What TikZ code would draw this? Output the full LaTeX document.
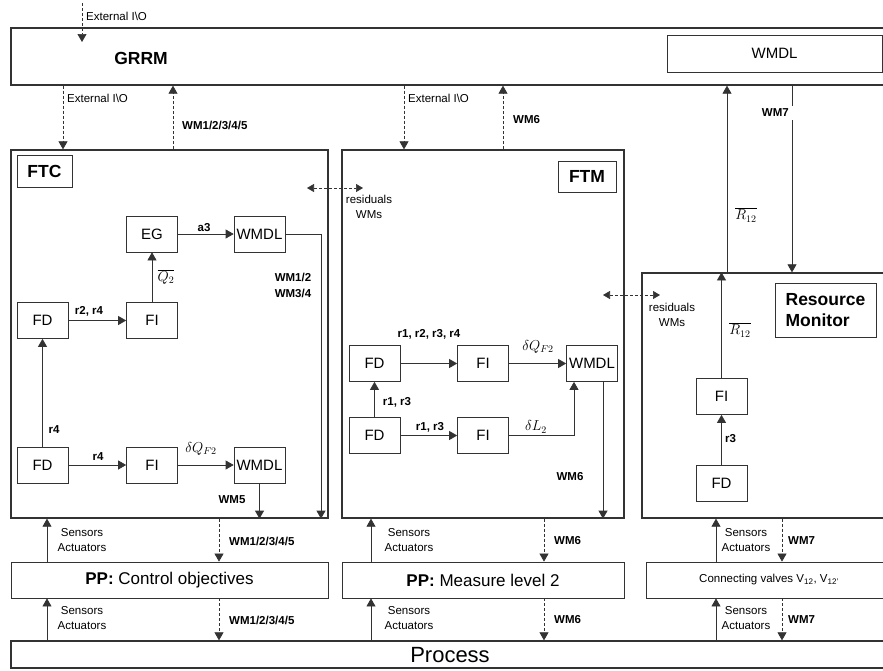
\documentclass[tikz,border=0pt]{standalone}
\usepackage{fontspec}
\setmainfont{Liberation Sans}
\usetikzlibrary{positioning, calc, arrows.meta}
\tikzset{
    panel/.style={draw=black!80, line width=1.3pt, inner sep=0pt},
    blk/.style={draw=black!80, line width=0.7pt, minimum width=51pt, minimum height=36pt, inner sep=0pt, font=\fontsize{15}{17}\selectfont},
    title/.style={font=\fontsize{17.5}{21.5}\selectfont\bfseries},
    tag/.style={inner sep=1pt, font=\fontsize{11.5}{14.5}\selectfont, align=center},
    wm/.style={inner sep=1pt, font=\fontsize{11.5}{16}\selectfont\bfseries, align=center},
    sym/.style={inner sep=1pt, font=\fontsize{14}{16}\selectfont},
    arr/.style={draw=black!80, line width=0.7pt, -{Triangle[width=9pt,length=8pt]}},
    darr/.style={arr, dash pattern=on 3pt off 2pt},
    biarr/.style={darr, {Triangle[width=8pt,length=7pt]}-{Triangle[width=8pt,length=7pt]}},
}

\begin{document}
\begin{tikzpicture}[x=1pt, y=-1pt]
\useasboundingbox (0,0) rectangle (883,670);

\node[panel, minimum width=881pt, minimum height=57pt] (grrm) at (451.5,56.5) {};
\node[panel, minimum width=317pt, minimum height=368pt] (ftc) at (169.5,334) {};
\node[panel, minimum width=282pt, minimum height=368pt] (ftm) at (483,334) {};
\node[panel, minimum width=250pt, minimum height=245pt] (rm) at (767,395.5) {};
\node[panel, line width=0.8pt, minimum width=317pt, minimum height=36pt, font=\fontsize{17}{19}\selectfont] (ppc) at (169.5,580) {\textbf{PP:} Control objectives};
\node[panel, line width=0.8pt, minimum width=282pt, minimum height=36pt, font=\fontsize{17}{19}\selectfont] (ppm) at (483,580) {\textbf{PP:} Measure level 2};
\node[panel, line width=0.8pt, minimum width=246pt, minimum height=36pt, font=\fontsize{11.5}{13}\selectfont] (ppv) at (769,580) {Connecting valves V\textsubscript{12}, V\textsubscript{12'}};
\node[panel, minimum width=881pt, minimum height=27pt] (proc) at (451.5,654.5) {};
\node[font=\fontsize{22}{24}\selectfont] (tproc) at (450,655) {Process};

\node[title] (tgrrm) at (141,58) {GRRM};
\node[blk, minimum width=215pt, minimum height=37pt] (wmdl0) at (774.5,53.5) {WMDL};
\node[blk, title, minimum width=55pt, minimum height=32pt] (ftctag) at (44.5,171) {FTC};
\node[blk, title, minimum width=58pt, minimum height=31pt] (ftmtag) at (587,176.5) {FTM};
\node[blk, title, minimum width=101pt, minimum height=54pt, align=left] (rmtag) at (825.5,310) {Resource\\Monitor};

\node[blk] (eg) at (152,234) {EG};
\node[blk] (wmdl1) at (259.5,234) {WMDL};
\node[blk] (fd1) at (42.5,320.5) {FD};
\node[blk] (fi1) at (152,320.5) {FI};
\node[blk] (fd2) at (42.5,465) {FD};
\node[blk] (fi2) at (152,465) {FI};
\node[blk] (wmdl2) at (259.5,465) {WMDL};
\node[blk] (fd3) at (374.5,363.5) {FD};
\node[blk] (fi3) at (483,363.5) {FI};
\node[blk] (wmdl3) at (592,363.5) {WMDL};
\node[blk] (fd4) at (374.5,435.5) {FD};
\node[blk] (fi4) at (483,435.5) {FI};
\node[blk] (fi5) at (721.5,396.5) {FI};
\node[blk] (fd5) at (721.5,483.5) {FD};

\coordinate (io0) at (82,3);
\coordinate (io0end) at (82,42);
\foreach \n/\x in {io1/63, up1/173, io2/404, up2/503, r12/727, wm7/792, out1/321, dl2/574, out3/603}
    \coordinate (\n) at (\x,0);

\draw[darr] (io0) -- (io0end);
\node[tag, anchor=west] (tio0) at (85,16) {External I\textbackslash O};
\draw[darr] (io1 |- grrm.south) -- (io1 |- ftc.north);
\node[tag, anchor=west] (tio1) at (66,98) {External I\textbackslash O};
\draw[darr] (up1 |- ftc.north) -- (up1 |- grrm.south);
\node[wm, anchor=west] (tup1) at (181,125) {WM1/2/3/4/5};
\draw[darr] (io2 |- grrm.south) -- (io2 |- ftm.north);
\node[tag, anchor=west] (tio2) at (407,98) {External I\textbackslash O};
\draw[darr] (up2 |- ftm.north) -- (up2 |- grrm.south);
\node[wm, anchor=west] (tup2) at (512,120) {WM6};
\draw[arr] (r12 |- rm.north) -- (r12 |- grrm.south);
\node[sym] (tr12a) at (746,215) {$\overline{R_{12}}$};
\draw[arr] (wm7 |- grrm.south) -- (wm7 |- rm.north);
\node[wm, fill=white, inner xsep=6pt, inner ysep=3pt, anchor=east] (twm7) at (795,113) {WM7};

\coordinate (res1a) at (307,188);
\coordinate (res1b) at (363,188);
\draw[biarr] (res1a) -- (res1b);
\node[tag] (tres1) at (369,207) {residuals\\WMs};
\coordinate (res2a) at (603,295);
\coordinate (res2b) at (660,295);
\draw[biarr] (res2a) -- (res2b);
\node[tag] (tres2) at (672,315) {residuals\\WMs};

\draw[arr] (eg) -- (wmdl1);
\node[wm] (ta3) at (204,228) {a3};
\draw[arr] (wmdl1.east) -| (out1 |- ftc.south);
\node[wm] (twm14) at (293,285) {WM1/2\\WM3/4};
\draw[arr] (fd1) -- (fi1);
\node[wm] (tr24) at (89,311) {r2, r4};
\draw[arr] (fi1) -- (eg);
\node[sym] (tq2) at (166,277) {$\overline{Q_2}$};
\draw[arr] (fd2) -- (fd1);
\node[wm] (tr4a) at (54,430) {r4};
\draw[arr] (fd2) -- (fi2);
\node[wm] (tr4b) at (98,457) {r4};
\draw[arr] (fi2) -- (wmdl2);
\node[sym] (tdq1) at (201,449) {$\delta Q_{F2}$};
\draw[arr] (wmdl2) -- (wmdl2 |- ftc.south);
\node[wm] (twm5) at (232,500) {WM5};

\draw[arr] (fd3) -- (fi3);
\node[wm] (tr1234) at (429,334) {r1, r2, r3, r4};
\draw[arr] (fi3) -- (wmdl3);
\node[sym] (tdq2) at (538,347) {$\delta Q_{F2}$};
\draw[arr] (fd4) -- (fd3);
\node[wm] (tr13a) at (397,402) {r1, r3};
\draw[arr] (fd4) -- (fi4);
\node[wm] (tr13b) at (430,427) {r1, r3};
\draw[arr] (fi4) -| (dl2 |- wmdl3.south);
\node[sym] (tdl) at (536,427) {$\delta L_2$};
\draw[arr] (out3 |- wmdl3.south) -- (out3 |- ftm.south);
\node[wm] (twm6) at (570,477) {WM6};

\draw[arr] (fd5) -- (fi5);
\node[wm, anchor=west] (tr3) at (724,439) {r3};
\draw[arr] (fi5) -- (fi5 |- rm.north);
\node[sym] (tr12b) at (740,330) {$\overline{R_{12}}$};

\foreach \f/\p/\u/\d/\s/\w/\t in {ftc/ppc/47/219/82/228/{WM1/2/3/4/5}, ftm/ppm/371/544/409/553/WM6, rm/ppv/716/782/746/787/WM7} {
    \coordinate (u\f) at (\u,0);
    \coordinate (d\f) at (\d,0);
    \draw[arr] (u\f |- \p.north) -- (u\f |- \f.south);
    \draw[darr] (d\f |- \f.south) -- (d\f |- \p.north);
    \draw[arr] (u\f |- proc.north) -- (u\f |- \p.south);
    \draw[darr] (d\f |- \p.south) -- (d\f |- proc.north);
    \node[tag] (sa\f) at (\s,540) {Sensors\\Actuators};
    \node[tag] (sb\f) at (\s,618) {Sensors\\Actuators};
    \node[wm, anchor=west] (wa\f) at (\w,541) {\t};
    \node[wm, anchor=west] (wb\f) at (\w,620) {\t};
}
\end{tikzpicture}
\end{document}
